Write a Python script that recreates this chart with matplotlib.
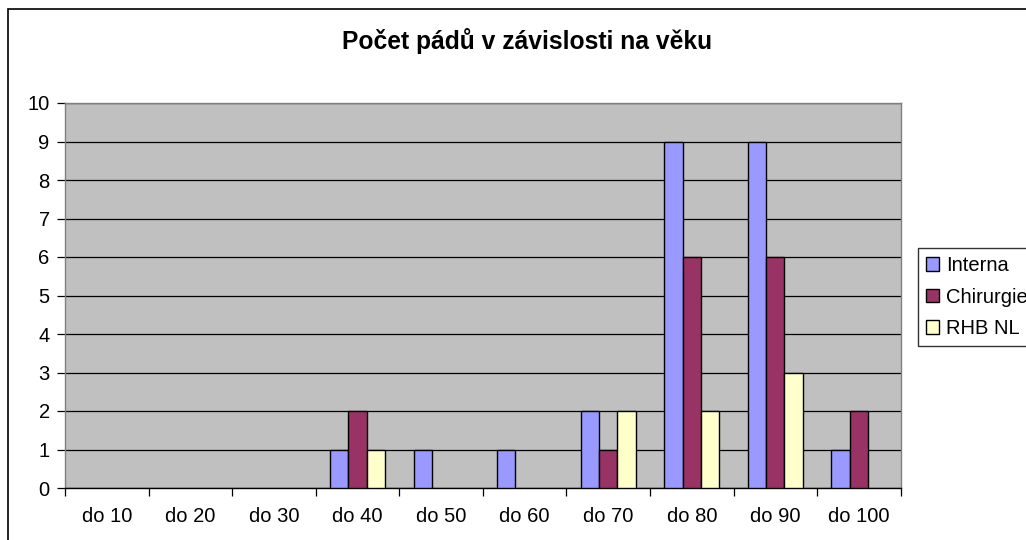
import matplotlib
matplotlib.use('Agg')
import matplotlib.pyplot as plt
from matplotlib.patches import Rectangle
import numpy as np

plt.rcParams['font.family'] = ['Liberation Sans', 'DejaVu Sans']

categories = ['do 10', 'do 20', 'do 30', 'do 40', 'do 50',
              'do 60', 'do 70', 'do 80', 'do 90', 'do 100']
interna = [0, 0, 0, 1, 1, 1, 2, 9, 9, 1]
chirurgie = [0, 0, 0, 2, 0, 0, 1, 6, 6, 2]
rhb_nl = [0, 0, 0, 1, 0, 0, 2, 2, 3, 0]

series = [('Interna', interna, '#9999FF'),
          ('Chirurgie', chirurgie, '#993366'),
          ('RHB NL', rhb_nl, '#FFFFCC')]

W, H = 1026, 540
fig = plt.figure(figsize=(W / 100, H / 100), dpi=100)

# outer chart border (cut off on right and bottom like the original)
fig.patches.append(Rectangle((8 / W, -0.05), 1.1, 1 - 9 / H + 0.05,
                             transform=fig.transFigure, fill=False,
                             edgecolor='black', linewidth=1.2))

left, right, top, bottom = 65, 900.7, 103, 488
ax = fig.add_axes([left / W, 1 - bottom / H, (right - left) / W, (bottom - top) / H])
ax.set_facecolor('#C0C0C0')

x = np.arange(len(categories))
bw = 0.219
for i, (name, vals, col) in enumerate(series):
    h = np.array(vals, dtype=float)
    h[h == 0] = np.nan  # empty categories draw nothing
    ax.bar(x + (i - 1) * bw, h, width=bw, color=col, edgecolor='black',
           linewidth=1.0, label=name, zorder=3)

ax.set_xlim(-0.5, len(categories) - 0.5)
ax.set_ylim(0, 10)
ax.set_yticks(range(0, 11))
ax.yaxis.grid(True, color='black', linewidth=0.9, zorder=1)
ax.set_axisbelow(True)

# category labels centered, tick marks at boundaries
ax.set_xticks(x)
ax.set_xticklabels(categories, fontsize=14.5)
ax.tick_params(axis='x', length=0, pad=14)
ax.set_xticks(np.arange(-0.5, len(categories)), minor=True)
ax.tick_params(axis='x', which='minor', length=6, width=0.9, color='black')
ax.tick_params(axis='y', length=6, width=0.9, labelsize=14.5, pad=5)

for s in ['top', 'right', 'left']:
    ax.spines[s].set_color('#808080')
    ax.spines[s].set_linewidth(1.0)
ax.spines['bottom'].set_color('black')
ax.spines['bottom'].set_linewidth(1.0)

fig.text(527 / W, 1 - 41 / H, 'Počet pádů v závislosti na věku',
         ha='center', va='center', fontsize=17.7, fontweight='bold')

leg = fig.legend(loc='upper left', bbox_to_anchor=(918 / W, 1 - 248 / H),
                 fontsize=14.5, frameon=True, fancybox=False, edgecolor='black',
                 handlelength=0.65, handleheight=0.65, handletextpad=0.35,
                 labelspacing=0.62, borderpad=0.4, borderaxespad=0)
leg.get_frame().set_linewidth(1.0)

fig.savefig('out.png', dpi=100)
plt.close()
